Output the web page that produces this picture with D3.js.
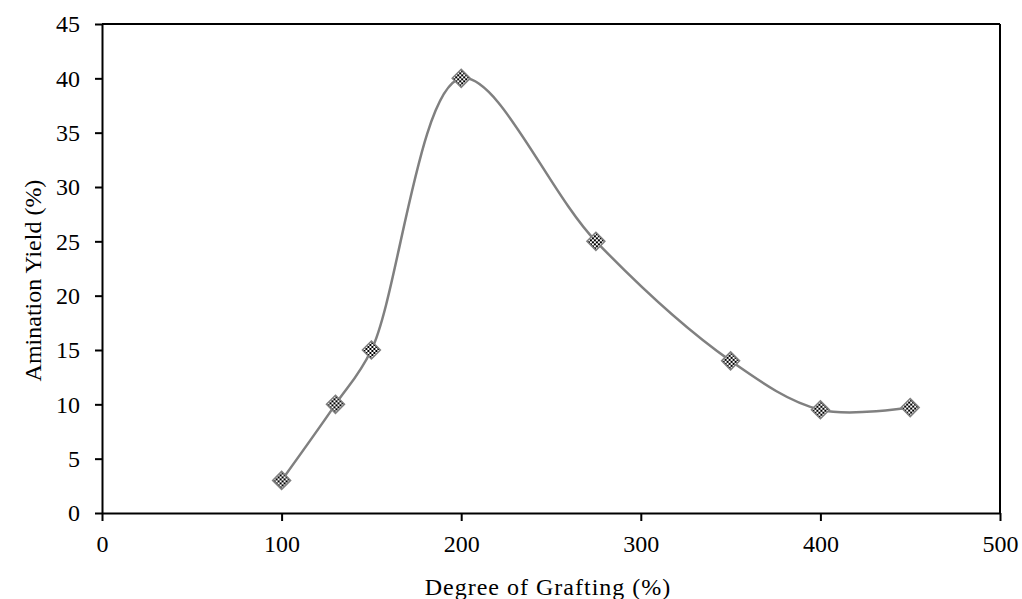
<!DOCTYPE html>
<html>
<head>
<meta charset="utf-8">
<script src="https://cdn.jsdelivr.net/npm/d3@7"></script>
<style>
  body { margin: 0; background: #fff; }
  .axis text { font-family: "Liberation Serif", "Times New Roman", serif; font-size: 24px; fill: #000; }
  .axis path, .axis line { stroke: #000; stroke-width: 2px; }
  .axis-legend { font-family: "Liberation Serif", "Times New Roman", serif; font-size: 24px; fill: #000; }
</style>
</head>
<body>
<svg class="chart"></svg>
<script>
var grafting = [100, 130, 150, 200, 275, 350, 400, 450];
var yieldPct = [3, 10, 15, 40, 25, 14, 9.5, 9.7];
var xTicks = [0, 100, 200, 300, 400, 500];
var yTicks = [0, 5, 10, 15, 20, 25, 30, 35, 40, 45];

var margin = {top: 24, right: 22, bottom: 86, left: 102};
var width = 1022 - margin.left - margin.right;
var height = 599 - margin.top - margin.bottom;

var svg = d3.select(".chart")
  .attr("width", 1022)
  .attr("height", 599);

// checker fill for the markers
var pat = svg.append("defs").append("pattern")
  .attr("id", "checker")
  .attr("width", 4).attr("height", 4)
  .attr("patternUnits", "userSpaceOnUse");
pat.append("rect").attr("width", 4).attr("height", 4).attr("fill", "#fff");
pat.append("rect").attr("width", 2).attr("height", 2).attr("fill", "#000");
pat.append("rect").attr("x", 2).attr("y", 2).attr("width", 2).attr("height", 2).attr("fill", "#000");

var chart = svg.append("g")
  .attr("transform", "translate(" + margin.left + "," + margin.top + ")");

var x = d3.scaleLinear().domain([0, 500]).range([0, width]);
var y = d3.scaleLinear().domain([0, 45]).range([height, 0]);

// frame top/right
chart.append("line")
  .attr("x1", 0).attr("x2", width).attr("y1", 0).attr("y2", 0)
  .style("stroke", "#000").style("stroke-width", 2);
chart.append("line")
  .attr("x1", width).attr("x2", width).attr("y1", 0).attr("y2", height)
  .style("stroke", "#000").style("stroke-width", 2);

chart.append("g")
  .attr("class", "axis")
  .attr("transform", "translate(0," + height + ")")
  .call(d3.axisBottom(x).tickValues(xTicks).tickSize(8).tickSizeOuter(0).tickPadding(14));

chart.append("g")
  .attr("class", "axis")
  .call(d3.axisLeft(y).tickValues(yTicks).tickSize(7).tickSizeOuter(0).tickPadding(15));

var pts = grafting.map(function(d, i) { return [d, yieldPct[i]]; });

var line = d3.line()
  .x(function(d) { return x(d[0]); })
  .y(function(d) { return y(d[1]); })
  .curve(d3.curveCatmullRom.alpha(0.5));

chart.append("path")
  .datum(pts)
  .attr("d", line)
  .style("fill", "none")
  .style("stroke", "#808080")
  .style("stroke-width", 2.5);

chart.selectAll(".marker")
  .data(pts)
  .enter().append("path")
  .attr("class", "marker")
  .attr("d", "M0,-9L9,0L0,9L-9,0Z")
  .attr("transform", function(d) { return "translate(" + x(d[0]) + "," + y(d[1]) + ")"; })
  .style("fill", "url(#checker)")
  .style("stroke", "#808080")
  .style("stroke-width", 1.5);

chart.append("text")
  .attr("class", "axis-legend")
  .attr("text-anchor", "middle")
  .style("letter-spacing", "1px")
  .attr("transform", "translate(" + (width / 2 - 3) + "," + (height + 82) + ")")
  .text("Degree of Grafting (%)");

chart.append("text")
  .attr("class", "axis-legend")
  .attr("text-anchor", "middle")
  .attr("transform", "translate(-61," + (height / 2 + 12) + "), rotate(-90)")
  .text("Amination Yield (%)");
</script>
</body>
</html>
